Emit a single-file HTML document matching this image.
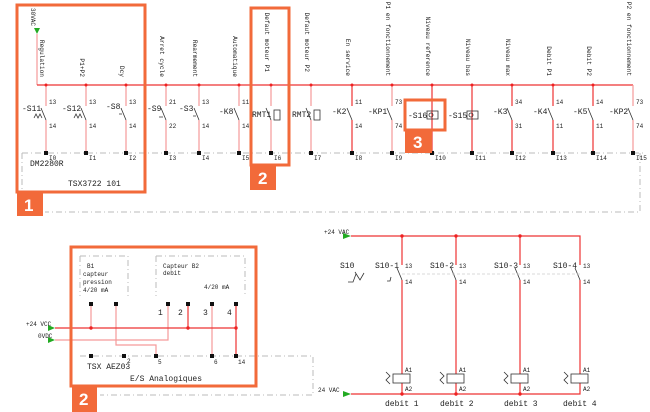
<!DOCTYPE html>
<html><head><meta charset="utf-8"><style>
html,body{margin:0;padding:0;background:#fff;}
svg{display:block;}
text{font-family:"Liberation Mono",monospace;fill:#222;}
.v{font-size:6.2px;}
.s{font-size:6px;}
.m{font-size:8px;}
.r{stroke:#ee3333;stroke-width:1.2;fill:none;}
.rl{stroke:#f59a9a;stroke-width:1.2;fill:none;}
.d{stroke:#bbb;stroke-width:1;fill:none;stroke-dasharray:6,3,1,3;}
.k{stroke:#333;stroke-width:0.8;fill:none;}
.o{stroke:#f26a3a;stroke-width:3;fill:none;}
.b{fill:#f26a3a;}
.bt{font-family:"Liberation Sans",sans-serif;font-weight:bold;font-size:17px;fill:#fff;}
</style></head><body>
<svg width="650" height="412" viewBox="0 0 650 412" xmlns="http://www.w3.org/2000/svg">
<path class="d" d="M22 153 H645 M640 153 V212 H45 M22 153 V190"/>
<polygon points="34,28 40,28 37,34" fill="#22aa22"/>
<text class="s" transform="translate(31,8) rotate(90)">30VAC</text>
<path class="rl" d="M37 34 V85"/>
<path class="r" d="M37 85 H633"/>
<g>
<path class="rl" d="M46 85V106 M46 120V153 M86 85V106 M86 120V153 M126 85V106 M126 120V153 M166 85V106 M166 120V153 M199 85V106 M199 120V153 M239 85V106 M239 120V153 M271 85V106 M271 120V153 M311 85V106 M311 120V153 M392 85V106 M392 120V153 M633 85V106 M633 120V153"/>
<path class="r" d="M352 85V106 M352 120V153 M432 85V153 M472 85V153 M512 85V106 M512 120V153 M553 85V106 M553 120V153 M593 85V106 M593 120V153"/>
<path class="k" d="M41 108L46 120 M81 108L86 120 M121 108L126 120 M161 108L166 120 M194 108L199 120 M234 108L239 120 M266 108L271 120 M306 108L311 120 M347 108L352 120 M387 108L392 120 M507 108L512 120 M548 108L553 120 M588 108L593 120 M628 108L633 120"/>
<path class="k" d="M34 118 l2 -4 l2 4 l2 -4 l2 4 M74 118 l2 -4 l2 4 l2 -4 l2 4 M119 114h3 M159 117h4 M193 116h3"/>
<rect x="274" y="110" width="6" height="10" class="k"/><rect x="314" y="110" width="6" height="10" class="k"/>
<rect x="427" y="111" width="11" height="8" class="k" fill="#fff"/><rect x="467" y="111" width="11" height="8" class="k" fill="#fff"/>
<circle cx="431" cy="115" r="2" class="k"/><circle cx="471" cy="115" r="2" class="k"/>
</g>
<g fill="#e22">
<circle cx="46" cy="85" r="1.5"/><circle cx="86" cy="85" r="1.5"/><circle cx="126" cy="85" r="1.5"/><circle cx="166" cy="85" r="1.5"/><circle cx="199" cy="85" r="1.5"/><circle cx="239" cy="85" r="1.5"/><circle cx="271" cy="85" r="1.5"/><circle cx="311" cy="85" r="1.5"/><circle cx="352" cy="85" r="1.5"/><circle cx="392" cy="85" r="1.5"/><circle cx="432" cy="85" r="1.5"/><circle cx="472" cy="85" r="1.5"/><circle cx="512" cy="85" r="1.5"/><circle cx="553" cy="85" r="1.5"/><circle cx="593" cy="85" r="1.5"/>
</g>
<g fill="#111">
<rect x="44" y="151" width="4" height="4"/><rect x="84" y="151" width="4" height="4"/><rect x="124" y="151" width="4" height="4"/><rect x="164" y="151" width="4" height="4"/><rect x="197" y="151" width="4" height="4"/><rect x="237" y="151" width="4" height="4"/><rect x="269" y="151" width="4" height="4"/><rect x="309" y="151" width="4" height="4"/><rect x="350" y="151" width="4" height="4"/><rect x="390" y="151" width="4" height="4"/><rect x="430" y="151" width="4" height="4"/><rect x="470" y="151" width="4" height="4"/><rect x="510" y="151" width="4" height="4"/><rect x="551" y="151" width="4" height="4"/><rect x="591" y="151" width="4" height="4"/><rect x="631" y="151" width="4" height="4"/>
</g>
<g class="s">
<text x="49" y="160">I0</text><text x="89" y="160">I1</text><text x="129" y="160">I2</text><text x="169" y="160">I3</text><text x="202" y="160">I4</text><text x="242" y="160">I5</text><text x="274" y="160">I6</text><text x="314" y="160">I7</text><text x="355" y="160">I8</text><text x="395" y="160">I9</text><text x="435" y="160">I10</text><text x="475" y="160">I11</text><text x="515" y="160">I12</text><text x="556" y="160">I13</text><text x="596" y="160">I14</text><text x="636" y="160">I15</text>
<text x="49" y="104">13</text><text x="49" y="128">14</text><text x="89" y="104">13</text><text x="89" y="128">14</text><text x="129" y="104">13</text><text x="129" y="128">14</text>
<text x="169" y="104">21</text><text x="169" y="128">22</text><text x="202" y="104">13</text><text x="202" y="128">14</text><text x="242" y="104">11</text><text x="242" y="128">14</text>
<text x="355" y="104">11</text><text x="355" y="128">14</text><text x="395" y="104">73</text><text x="395" y="128">74</text><text x="515" y="104">34</text><text x="515" y="128">31</text>
<text x="556" y="104">14</text><text x="556" y="128">11</text><text x="596" y="104">14</text><text x="596" y="128">11</text><text x="636" y="104">73</text><text x="636" y="128">74</text>
</g>
<g class="m">
<text x="22" y="111">-S11</text><text x="62" y="111">-S12</text><text x="106" y="109">-S8</text><text x="147" y="111">-S9</text><text x="179" y="111">-S3</text><text x="219" y="114">-K8</text><text x="252" y="117">RMT1</text><text x="292" y="117">RMT2</text>
<text x="332" y="114">-K2</text><text x="368" y="114">-KP1</text><text x="408" y="118">-S16</text><text x="448" y="118">-S15</text><text x="493" y="114">-K3</text><text x="533" y="114">-K4</text><text x="573" y="114">-K5</text><text x="609" y="114">-KP2</text>
<text x="30" y="166">DM2280R</text><text x="68" y="186">TSX3722 101</text>
</g>
<g class="v" text-anchor="end">
<text transform="translate(40,77) rotate(90)">Regulation</text>
<text transform="translate(80,77) rotate(90)">P1+P2</text>
<text transform="translate(120,77) rotate(90)">Dcy</text>
<text transform="translate(160,77) rotate(90)">Arret cycle</text>
<text transform="translate(193,77) rotate(90)">Rearmement</text>
<text transform="translate(233,77) rotate(90)">Automatique</text>
<text transform="translate(265,72) rotate(90)">Defaut moteur P1</text>
<text transform="translate(305,72) rotate(90)">Defaut moteur P2</text>
<text transform="translate(346,76) rotate(90)">En service</text>
<text transform="translate(386,76) rotate(90)">P1 en fonctionnement</text>
<text transform="translate(426,76) rotate(90)">Niveau reference</text>
<text transform="translate(466,76) rotate(90)">Niveau bas</text>
<text transform="translate(506,76) rotate(90)">Niveau max</text>
<text transform="translate(547,76) rotate(90)">Debit P1</text>
<text transform="translate(587,76) rotate(90)">Debit P2</text>
<text transform="translate(627,76) rotate(90)">P2 en fonctionnement</text>
</g>
<path class="d" d="M80 256H128V296 M80 256V296 M156 256H245V296 M156 256V296 M80 356H313V395H100"/>
<text class="s" x="87" y="268">B1</text><text class="s" x="83" y="276">capteur</text><text class="s" x="83" y="284">pression</text><text class="s" x="83" y="292">4/20 mA</text>
<text class="s" x="163" y="268">Capteur B2</text><text class="s" x="163" y="275">debit</text><text class="s" x="204" y="289">4/20 mA</text>
<path class="rl" d="M91 304V328 M116 304V345H156V356 M168 304V340H55 M212 304V356"/>
<path class="r" d="M188 304V328 M236 304V356 M55 328H236"/>
<g fill="#e22"><circle cx="91" cy="328" r="1.7"/><circle cx="188" cy="328" r="1.7"/><circle cx="236" cy="328" r="1.7"/></g>
<polygon points="48,325 55,328 48,331" fill="#22aa22"/><polygon points="48,337 55,340 48,343" fill="#22aa22"/>
<text class="s" x="26" y="326" font-size="5">+24 VCC</text><text class="s" x="38" y="338" font-size="5">0VDC</text>
<g fill="#111"><rect x="89" y="302" width="4" height="4"/><rect x="114" y="302" width="4" height="4"/><rect x="166" y="302" width="4" height="4"/><rect x="186" y="302" width="4" height="4"/><rect x="210" y="302" width="4" height="4"/><rect x="234" y="302" width="4" height="4"/>
<rect x="89" y="354" width="4" height="4"/><rect x="122" y="354" width="4" height="4"/><rect x="154" y="354" width="4" height="4"/><rect x="210" y="354" width="4" height="4"/><rect x="234" y="354" width="4" height="4"/></g>
<g class="m"><text x="158" y="315">1</text><text x="178" y="315">2</text><text x="203" y="315">3</text><text x="227" y="315">4</text>
<text x="87" y="369">TSX AEZ03</text><text x="130" y="381">E/S Analogiques</text></g>
<g class="s"><text x="127" y="363">2</text><text x="158" y="364">5</text><text x="214" y="364">6</text><text x="238" y="364">14</text></g>
<polygon points="343,233 351,236 343,239" fill="#22aa22"/><polygon points="343,391 351,394 343,397" fill="#22aa22"/>
<text class="s" x="324" y="234">+24 VAC</text><text class="s" x="318" y="392">24 VAC</text>
<path class="r" d="M351 236H580V265 M351 394H580V383 M402 236V265 M402 280V374 M456 236V265 M456 280V374 M520 236V265 M520 280V374 M580 280V374 M402 383V394 M456 383V394 M520 383V394"/>
<path class="k" d="M397 268L402 280 M451 268L456 280 M515 268L520 280 M575 268L580 280"/>
<path d="M402 274H580" stroke="#ccc" stroke-dasharray="3,2" stroke-width="0.8"/>
<g fill="#e22"><circle cx="402" cy="236" r="1.7"/><circle cx="456" cy="236" r="1.7"/><circle cx="520" cy="236" r="1.7"/><circle cx="402" cy="394" r="1.7"/><circle cx="456" cy="394" r="1.7"/><circle cx="520" cy="394" r="1.7"/></g>
<g class="k"><rect x="393" y="374" width="17" height="9" fill="#fff"/><rect x="447" y="374" width="17" height="9" fill="#fff"/><rect x="511" y="374" width="17" height="9" fill="#fff"/><rect x="571" y="374" width="17" height="9" fill="#fff"/>
<path d="M386 372l4 4l-4 4l4 4 M440 372l4 4l-4 4l4 4 M504 372l4 4l-4 4l4 4 M564 372l4 4l-4 4l4 4 M348 282h5l3 -8 M387 281h3l1 -4 M355 272l5 8l4 -7"/></g>
<g class="m"><text x="340" y="268">S10</text><text x="375" y="268">S10-1</text><text x="430" y="268">S10-2</text><text x="494" y="268">S10-3</text><text x="553" y="268">S10-4</text>
<text x="385" y="406">debit 1</text><text x="440" y="406">debit 2</text><text x="504" y="406">debit 3</text><text x="563" y="406">debit 4</text></g>
<g class="s"><text x="405" y="268">13</text><text x="405" y="284">14</text><text x="459" y="268">13</text><text x="459" y="284">14</text><text x="523" y="268">13</text><text x="523" y="284">14</text><text x="583" y="268">13</text><text x="583" y="284">14</text>
<text x="405" y="372">A1</text><text x="405" y="391">A2</text><text x="459" y="372">A1</text><text x="459" y="391">A2</text><text x="523" y="372">A1</text><text x="523" y="391">A2</text><text x="583" y="372">A1</text><text x="583" y="391">A2</text></g>
<rect class="o" x="17" y="5" width="128" height="187"/>
<rect class="b" x="17" y="193" width="26" height="23"/><text class="bt" x="24" y="211">1</text>
<rect class="o" x="251" y="8" width="38" height="157"/>
<rect class="b" x="250" y="166" width="26" height="24"/><text class="bt" x="258" y="184">2</text>
<rect class="o" x="405" y="100" width="40" height="30"/>
<rect class="b" x="405" y="130" width="27" height="23"/><text class="bt" x="413" y="148">3</text>
<rect class="o" x="71" y="247" width="185" height="139"/>
<rect class="b" x="72" y="386" width="25" height="26"/><text class="bt" x="79" y="405">2</text>
</svg>
</body></html>
